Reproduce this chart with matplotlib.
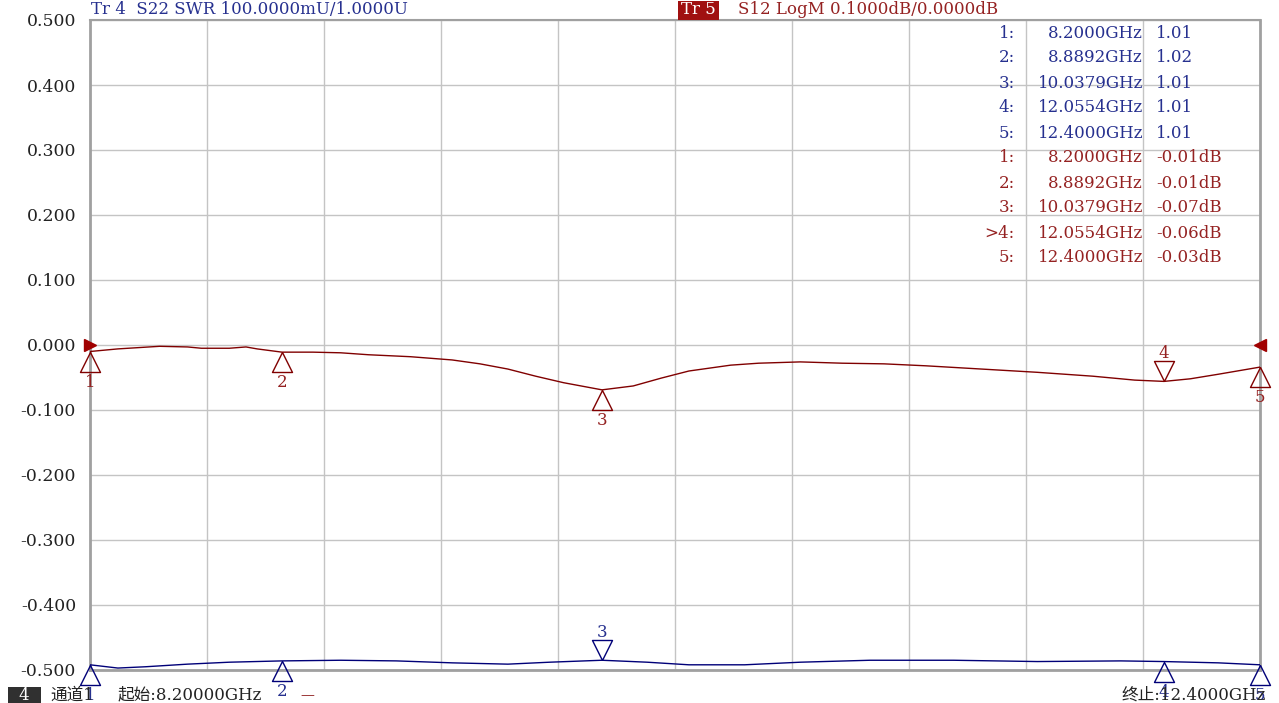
import numpy as np
import matplotlib.pyplot as plt
from matplotlib.patches import Rectangle

# ---- data ----
# Tr 5: S12 LogM (dB), 0.1 dB/div, ref 0 dB
freq_s12 = [8.20, 8.30, 8.45, 8.55, 8.60, 8.70, 8.76, 8.80, 8.8892, 9.00, 9.10, 9.20,
            9.35, 9.50, 9.60, 9.70, 9.80, 9.90, 10.0379, 10.15, 10.25, 10.35, 10.50,
            10.60, 10.75, 10.90, 11.05, 11.20, 11.40, 11.60, 11.80, 11.95, 12.0554,
            12.15, 12.25, 12.40]
s12_db = [-0.010, -0.006, -0.002, -0.003, -0.005, -0.005, -0.003, -0.006, -0.011, -0.011,
          -0.012, -0.015, -0.018, -0.023, -0.029, -0.037, -0.048, -0.058, -0.069, -0.063,
          -0.051, -0.040, -0.031, -0.028, -0.026, -0.028, -0.029, -0.032, -0.037, -0.042,
          -0.048, -0.054, -0.056, -0.052, -0.045, -0.034]

# Tr 4: S22 SWR (U), 100 mU/div, ref 1.0 U at bottom line
freq_s22 = [8.20, 8.30, 8.40, 8.55, 8.70, 8.8892, 9.10, 9.30, 9.50, 9.70, 9.85, 10.0379,
            10.20, 10.35, 10.55, 10.75, 11.00, 11.30, 11.60, 11.90, 12.0554, 12.25, 12.40]
s22_swr = [1.008, 1.003, 1.005, 1.009, 1.012, 1.014, 1.015, 1.014, 1.011, 1.009, 1.012,
           1.015, 1.012, 1.008, 1.008, 1.012, 1.015, 1.015, 1.013, 1.014, 1.013, 1.011, 1.008]

marker_freq = [8.2000, 8.8892, 10.0379, 12.0554, 12.4000]
marker_swr = [1.01, 1.02, 1.01, 1.01, 1.01]
marker_db = [-0.01, -0.01, -0.07, -0.06, -0.03]

ytick_vals = np.arange(0.5, -0.51, -0.1)
ytick_labels = ['%.3f' % v if abs(v) > 1e-9 else '0.000' for v in ytick_vals]

W, H = 1279, 703
RED = '#800000'
RED_TXT = '#952222'
BLUE = '#000078'
BLUE_TXT = '#26308f'
FONT = ['DejaVu Serif', 'Noto Sans CJK SC']
plt.rcParams['font.family'] = FONT

fig = plt.figure(figsize=(W / 100, H / 100), dpi=100)
ax = fig.add_axes([90 / W, 33 / H, 1170 / W, 650 / H])

f0, f1 = 8.2, 12.4
ax.set_xlim(f0, f1)
ax.set_ylim(-0.5, 0.5)
ax.set_xticks(np.linspace(f0, f1, 11))
ax.set_xticklabels([])
ax.set_yticks(ytick_vals)
ax.set_yticklabels(ytick_labels, fontsize=12.4, color='#222222')
ax.tick_params(length=0, pad=10)
ax.grid(color='#c4c4c4', lw=1)
for s in ax.spines.values():
    s.set_color('#a0a0a0')
    s.set_linewidth(2)
ax.spines['top'].set_linewidth(1.5)

# traces
swr_plot = np.array(s22_swr) - 1.5
ax.plot(freq_s12, s12_db, color=RED, lw=1.0, zorder=3)
ax.plot(freq_s22, swr_plot, color=BLUE, lw=1.0, zorder=3)

# marker triangles with apex on the trace
up_tri = [(0, 0), (-1, -2), (1, -2), (0, 0)]
down_tri = [(0, 0), (-1, 2), (1, 2), (0, 0)]
ms = 28.8


def put_marker(f, y, label, color, txtcolor, down):
    m = down_tri if down else up_tri
    ax.plot([f], [y], marker=m, ms=ms, mfc='none', mec=color, mew=1.0,
            clip_on=False, zorder=4)
    dy = 20 if down else -22
    ax.annotate(label, (f, y), xytext=(0, dy), textcoords='offset points',
                ha='center', va='center', fontsize=12, color=txtcolor,
                annotation_clip=False)


for i, f in enumerate(marker_freq):
    y = np.interp(f, freq_s12, s12_db)
    put_marker(f, y, str(i + 1), RED, RED_TXT, down=(i == 3))
    y2 = np.interp(f, freq_s22, s22_swr) - 1.5
    put_marker(f, y2, str(i + 1), BLUE, BLUE_TXT, down=(i == 2))

# reference position arrows for Tr 5
ax.plot([0], [0], marker='>', ms=9, color='#a00000', transform=ax.get_yaxis_transform(),
        clip_on=False, zorder=5)
ax.plot([1], [0], marker='<', ms=9, color='#a00000', transform=ax.get_yaxis_transform(),
        clip_on=False, zorder=5)


def ftext(x, y, s, **kw):
    kw.setdefault('fontsize', 12)
    kw.setdefault('va', 'center')
    return fig.text(x / W, 1 - y / H, s, **kw)


# header
ftext(91, 10, 'Tr 4  S22 SWR 100.0000mU/1.0000U', color=BLUE_TXT)
fig.patches.append(Rectangle((678 / W, 1 - 20 / H), 41 / W, 19 / H,
                             transform=fig.transFigure, fc='#a01010', ec='none'))
ftext(698, 10, 'Tr 5', color='white', ha='center')
ftext(738, 10, 'S12 LogM 0.1000dB/0.0000dB', color=RED_TXT)

# marker table
rows_y = [33 + 25 * k for k in range(10)]
for i in range(5):
    y = rows_y[i]
    ftext(1015, y, '%d:' % (i + 1), color=BLUE_TXT, ha='right')
    ftext(1143, y, '%.4fGHz' % marker_freq[i], color=BLUE_TXT, ha='right')
    ftext(1156, y, '%.2f' % marker_swr[i], color=BLUE_TXT, ha='left')
for i in range(5):
    y = rows_y[5 + i]
    lab = '>%d:' % (i + 1) if i == 3 else '%d:' % (i + 1)
    ftext(1015, y, lab, color=RED_TXT, ha='right')
    ftext(1143, y, '%.4fGHz' % marker_freq[i], color=RED_TXT, ha='right')
    ftext(1156, y, '%.2fdB' % marker_db[i], color=RED_TXT, ha='left')

# footer
fig.patches.append(Rectangle((8 / W, 0), 33 / W, 16 / H,
                             transform=fig.transFigure, fc='#303030', ec='none'))
ftext(24, 695, '4', color='white', ha='center')
ftext(50, 695, '通道1', color='#222222')
ftext(118, 695, '起始:8.20000GHz', color='#222222')
ftext(300, 695, '—', color=RED, fontsize=10)
ftext(1266, 695, '终止:12.4000GHz', color='#222222', ha='right')

fig.savefig('out.png', dpi=100, facecolor='white')
